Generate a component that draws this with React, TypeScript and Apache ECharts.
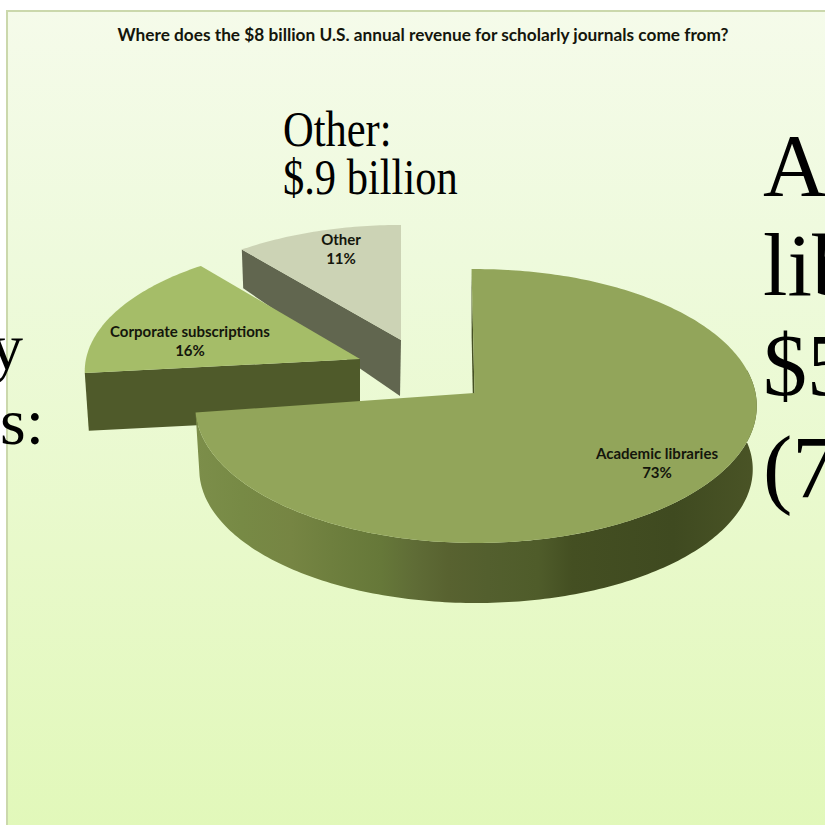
import React, { useEffect, useRef } from "react";
import * as echarts from "echarts";

// Revenue split, in percent, clockwise from twelve o'clock.
const categories = ["Academic libraries", "Corporate subscriptions", "Other"];
const shares = [73, 16, 11];
const chartTitle = "Where does the $8 billion U.S. annual revenue for scholarly journals come from?";

// Large annotation lines that run off the edges of the slide.
const otherNote = ["Other:", "$.9 billion"];
const libraryNote = ["A", "lib", "$5", "(7"];
const corporateNote = ["y", "s:"];

const SERIF = "'Liberation Serif', 'Times New Roman', serif";
const SANS = "Lato, 'Noto Sans', sans-serif";

type Disc = { ax: number; ay: number; A: number; B: number };

const PERSPECTIVE = 0.095;

// Per-slice explosion and tilt: top face, bottom face, colours, label anchor.
const sliceStyles = [
  {
    shift: -1,
    hubX: 474.5,
    top: { ax: 476, ay: 393, A: 135.7, B: 279.5 },
    bottom: { ax: 476, ay: 456.6, A: 132.5, B: 275.5 },
    bottomHubX: 474,
    topColor: "#92a55a",
    wallColor: "#465124",
    label: [657, 462.5],
  },
  {
    shift: 1,
    hubX: 360,
    top: { ax: 360, ay: 359, A: 128, B: 274 },
    bottom: { ax: 360, ay: 417, A: 126, B: 270 },
    bottomHubX: 360,
    topColor: "#a5bd68",
    wallColor: "#4f5a2a",
    label: [190, 340],
  },
  {
    shift: 0,
    hubX: 401,
    top: { ax: 401, ay: 340, A: 126, B: 268 },
    bottom: { ax: 400, ay: 396, A: 150, B: 264 },
    bottomHubX: 400,
    topColor: "#ccd3b5",
    wallColor: "#61664f",
    label: [341, 248],
  },
];

// Maps an angle on the unit disc to the page with a simple perspective divide.
function project(d: Disc, deg: number): number[] {
  const t = (deg * Math.PI) / 180;
  const u = Math.sin(t);
  const v = -Math.cos(t);
  const w = 1 - PERSPECTIVE * v;
  return [d.ax + (d.B * u) / w, d.ay + (d.A * v) / w];
}

function arc(d: Disc, from: number, to: number): number[][] {
  const n = Math.max(2, Math.ceil(Math.abs(to - from)));
  const pts: number[][] = [];
  for (let i = 0; i <= n; i++) pts.push(project(d, from + ((to - from) * i) / n));
  return pts;
}

// Banded shading of the rim, left to right across the page.
const rimStops = [
  [0, "#7c8e4a"],
  [0.08, "#778a45"],
  [0.17, "#768543"],
  [0.24, "#6e7f3e"],
  [0.33, "#667839"],
  [0.39, "#5f6c36"],
  [0.45, "#586230"],
  [0.52, "#535f2e"],
  [0.61, "#4f5c2a"],
  [0.67, "#444f22"],
  [0.85, "#3f4a20"],
  [1, "#4a5426"],
].map(([offset, color]) => ({ offset: offset as number, color: color as string }));

function renderSlice(params: any) {
  const i = params.dataIndex;
  const s = sliceStyles[i];
  const before = shares.slice(0, i).reduce((a, b) => a + b, 0);
  const start = (before / 100) * 360 + s.shift;
  const end = start + (shares[i] / 100) * 360;
  const children: any[] = [];

  // Radial wall on the leading edge of the slice.
  children.push({
    type: "polygon",
    shape: {
      points: [
        [s.hubX, s.top.ay],
        project(s.top, start),
        project(s.bottom, start),
        [s.bottomHubX, s.bottom.ay],
      ],
    },
    style: { fill: s.wallColor },
  });

  // Curved outer rim, only where it faces the viewer.
  if (start < 90 && end > 180) {
    children.push({
      type: "polygon",
      shape: {
        points: [...arc(s.top, 80, end), ...arc(s.bottom, end, 80)],
      },
      style: {
        fill: new echarts.graphic.LinearGradient(196, 0, 757, 0, rimStops, true),
      },
    });
  }

  // Top face.
  children.push({
    type: "polygon",
    shape: { points: [[s.hubX, s.top.ay], ...arc(s.top, start, end)] },
    style: { fill: s.topColor },
  });

  children.push({
    type: "text",
    x: s.label[0],
    y: s.label[1],
    style: {
      text: `${categories[i]}\n${shares[i]}%`,
      font: `bold 15px ${SANS}`,
      fill: "#14160c",
      align: "center",
      verticalAlign: "middle",
      lineHeight: 19,
    },
  });

  return { type: "group", children };
}

// Places a serif line by its baseline; the box top sits one ascent above it.
function noteText(text: string, x: number, baseline: number, size: number, scaleX: number, align = "left") {
  return {
    type: "text",
    x,
    y: baseline - size * 0.865,
    scaleX,
    style: { text, font: `${size}px ${SERIF}`, fill: "#000", align, verticalAlign: "top" },
  };
}

export default function App() {
  const ref = useRef<HTMLDivElement>(null);

  useEffect(() => {
    document.body.style.margin = "0";
    const chart = echarts.init(ref.current!, undefined, { renderer: "svg" });
    // Painted back to front, so the largest slice sits over the other two.
    const drawOrder = [2, 1, 0];
    chart.setOption({
      animation: false,
      backgroundColor: "#ffffff",
      title: {
        text: chartTitle,
        left: 418,
        top: 21,
        textAlign: "center",
        textStyle: { fontFamily: SANS, fontSize: 17.25, fontWeight: "bold", color: "#14160c" },
      },
      graphic: {
        elements: [
          {
            type: "rect",
            z: -10,
            shape: { x: 7, y: 11, width: 830, height: 830 },
            style: {
              stroke: "#cbd8ac",
              lineWidth: 2,
              fill: new echarts.graphic.LinearGradient(
                0,
                0,
                0,
                1,
                [
                  { offset: 0, color: "#f5fbea" },
                  { offset: 0.3, color: "#eefadc" },
                  { offset: 0.65, color: "#e8f9ca" },
                  { offset: 1, color: "#e1f8b9" },
                ],
              ),
            },
          },
          noteText(otherNote[0], 283, 148, 50, 0.85),
          noteText(otherNote[1], 283, 196, 50, 0.85),
          noteText(libraryNote[0], 763, 198, 88, 1),
          noteText(libraryNote[1], 763, 298, 88, 1),
          noteText(libraryNote[2], 763, 398, 88, 1),
          noteText(libraryNote[3], 763, 500, 88, 1),
          noteText(corporateNote[0], 23, 371, 66, 1, "right"),
          noteText(corporateNote[1], 44, 446, 66, 1, "right"),
        ],
      },
      series: drawOrder.map((idx) => ({
        type: "custom",
        coordinateSystem: "none",
        z: 5 - idx,
        silent: true,
        data: shares.map((v, i) => (i === idx ? v : null)),
        renderItem: (params: any) => (params.dataIndex === idx ? renderSlice(params) : null),
      })),
    });
    return () => chart.dispose();
  }, []);

  return <div ref={ref} style={{ position: "fixed", left: 0, top: 0, width: 825, height: 825 }} />;
}
